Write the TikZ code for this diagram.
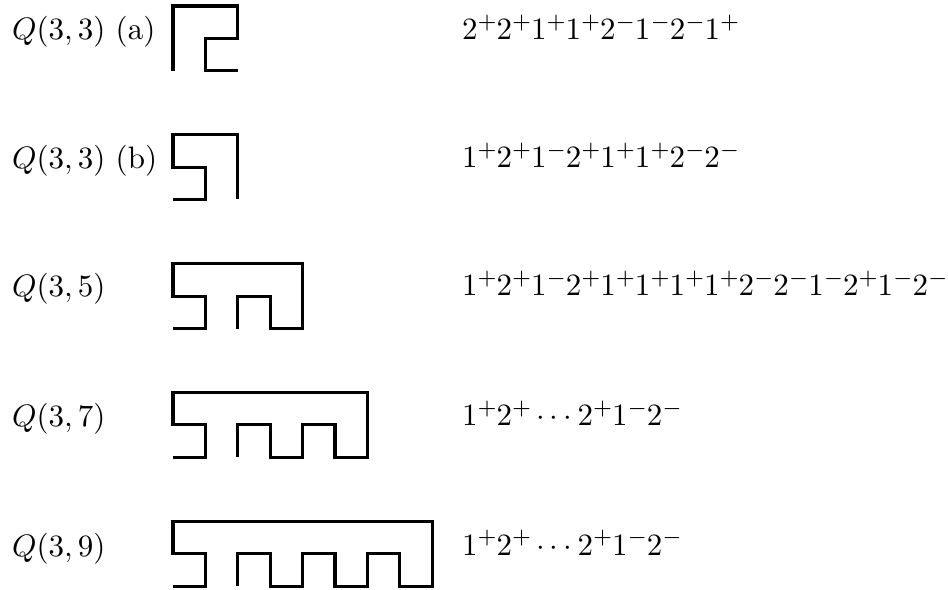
\documentclass[tikz,border=0pt]{standalone}
\begin{document}
\begin{tikzpicture}[x=0.3226pt,y=-0.3226pt,
  walk/.style={line width=1pt, line join=miter},
  lbl/.style={anchor=base west, inner sep=0pt, outer sep=0pt},
  seq/.style={lbl, execute at begin node={\scriptspace=0pt}}]
\useasboundingbox (0,0) rectangle (948,590);
% labels
\node[lbl] (la) at (12,40) {$Q(3,3)$ (a)};
\node[lbl] (lb) at (12,169) {$Q(3,3)$ (b)};
\node[lbl] (l5) at (12,297) {$Q(3,5)$};
\node[lbl] (l7) at (12,427) {$Q(3,7)$};
\node[lbl] (l9) at (12,556) {$Q(3,9)$};
% sequences
\node[seq] (sa) at (462,40) {$2^+2^+1^+1^+2^-1^-2^-1^+$};
\node[seq] (sb) at (462,168) {$1^+2^+1^-2^+1^+1^+2^-2^-$};
\node[seq] (s5) at (462,296) {$1^+2^+1^-2^+1^+1^+1^+1^+2^-2^-1^-2^+1^-2^-$};
\node[seq] (s7) at (462,426) {$1^+2^+\cdots2^+1^-2^-$};
\node[seq] (s9) at (462,555) {$1^+2^+\cdots2^+1^-2^-$};
% walks
\draw[walk] (173,70.8) -- (173,6) -- (237.8,6) -- (237.8,38.4) -- (205.4,38.4) -- (205.4,70.8) -- (237.8,70.8);
\draw[walk] (173,199.5) -- (205.4,199.5) -- (205.4,167.1) -- (173,167.1) -- (173,134.7) -- (237.8,134.7) -- (237.8,199.5);
\draw[walk] (173,328.6) -- (205.4,328.6) -- (205.4,296.2) -- (173,296.2) -- (173,263.8) -- (302.6,263.8) -- (302.6,328.6) -- (270.2,328.6) -- (270.2,296.2) -- (237.8,296.2) -- (237.8,328.6);
\draw[walk] (173,457.3) -- (205.4,457.3) -- (205.4,424.9) -- (173,424.9) -- (173,392.5) -- (367.4,392.5) -- (367.4,457.3) -- (335,457.3) -- (335,424.9) -- (302.6,424.9) -- (302.6,457.3) -- (270.2,457.3) -- (270.2,424.9) -- (237.8,424.9) -- (237.8,457.3);
\draw[walk] (173,586.3) -- (205.4,586.3) -- (205.4,553.9) -- (173,553.9) -- (173,521.5) -- (432.2,521.5) -- (432.2,586.3) -- (399.8,586.3) -- (399.8,553.9) -- (367.4,553.9) -- (367.4,586.3) -- (335,586.3) -- (335,553.9) -- (302.6,553.9) -- (302.6,586.3) -- (270.2,586.3) -- (270.2,553.9) -- (237.8,553.9) -- (237.8,586.3);
\end{tikzpicture}
\end{document}
